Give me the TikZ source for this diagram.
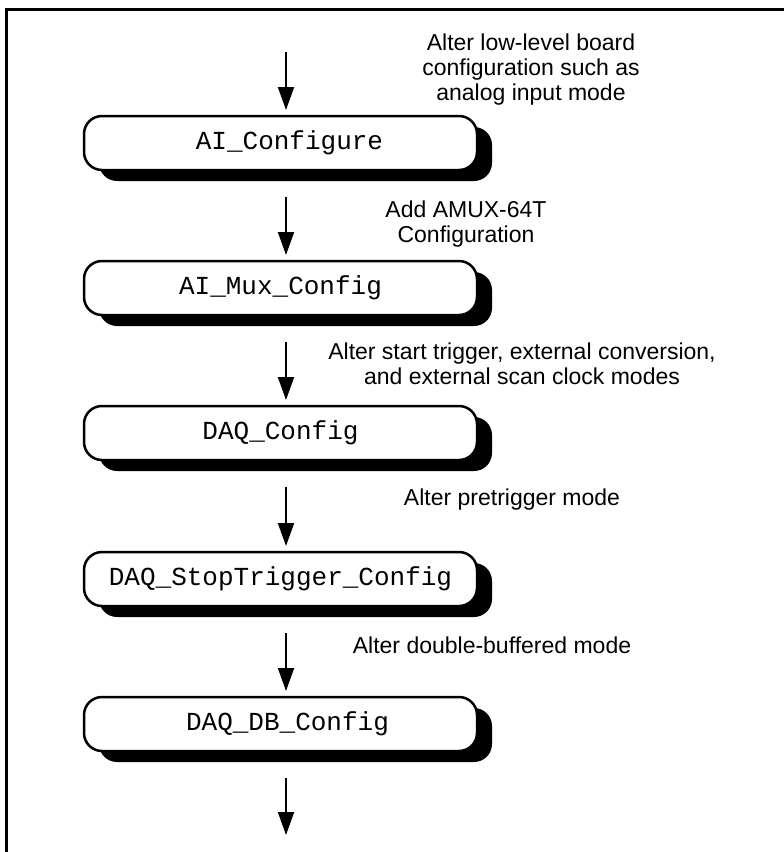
\documentclass[tikz,border=0pt]{standalone}
\usepackage{fontspec}
\setmainfont{Liberation Sans}
\newfontfamily\codefont{Liberation Mono}
\usetikzlibrary{arrows.meta,shadows}
\begin{document}
\begin{tikzpicture}[x=1pt,y=-1pt,
  fnbox/.style={draw=black, line width=2.5pt, fill=white, rounded corners=18pt,
    minimum width=393pt, minimum height=54pt, inner sep=0pt, outer sep=0pt,
    font=\codefont\fontsize{26}{28}\selectfont,
    drop shadow={shadow xshift=15pt, shadow yshift=-11pt, fill=black, opacity=1}},
  note/.style={align=center, font=\fontsize{23}{25}\selectfont, inner sep=0pt},
  flow/.style={line width=2pt, -{Triangle[width=16pt,length=23pt]},
    shorten <=27pt, shorten >=6pt},
]
\useasboundingbox (0,0) rectangle (784,852);
\draw[line width=3pt] (6.5,852) -- (6.5,9.5) -- (784,9.5);

\node[fnbox] (b1) at (280.5,143) {\hspace*{18pt}AI\_Configure};
\node[fnbox] (b2) at (280.5,288) {AI\_Mux\_Config};
\node[fnbox] (b3) at (280.5,433) {DAQ\_Config};
\node[fnbox] (b4) at (280.5,579) {DAQ\_StopTrigger\_Config};
\node[fnbox] (b5) at (280.5,724) {\hspace*{14pt}DAQ\_DB\_Config};

\coordinate (top) at (286,52);
\coordinate (bot) at (286,835);

\draw[flow, shorten <=0pt] (top) -- (b1.north -| top);
\draw[flow] (b1.south -| top) -- (b2.north -| top);
\draw[flow] (b2.south -| top) -- (b3.north -| top);
\draw[flow] (b3.south -| top) -- (b4.north -| top);
\draw[flow] (b4.south -| top) -- (b5.north -| top);
\draw[flow, shorten >=0pt] (b5.south -| top) -- (bot);

\node[note] (l1) at (531,70) {Alter low-level board\\configuration such as\\analog input mode};
\node[note] (l2) at (466,224.5) {Add AMUX-64T\\Configuration};
\node[note] (l3) at (522,363.5) {Alter start trigger, external conversion,\\and external scan clock modes};
\node[note] (l4) at (512,500) {Alter pretrigger mode};
\node[note] (l5) at (492,645) {Alter double-buffered mode};
\end{tikzpicture}
\end{document}
